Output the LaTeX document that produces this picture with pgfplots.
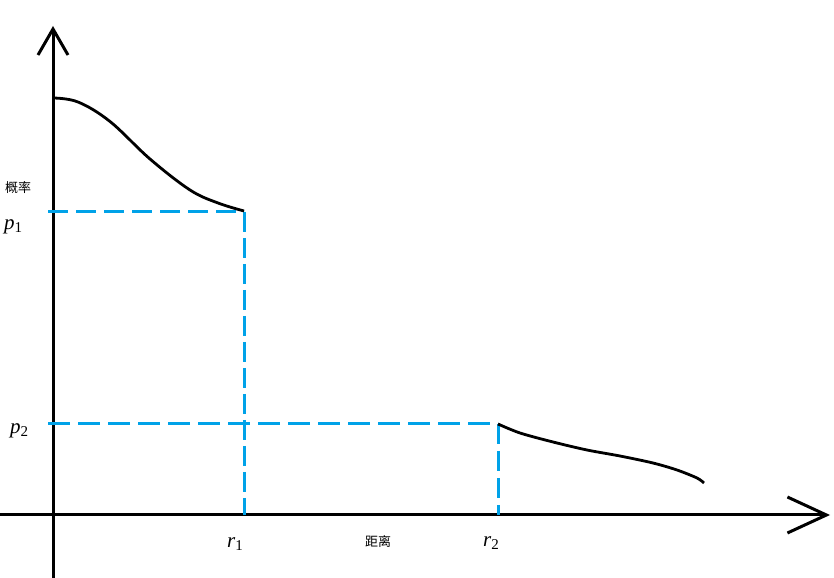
\documentclass[border=0pt]{standalone}
\usepackage{pgfplots}
\pgfplotsset{compat=1.18}
\usetikzlibrary{arrows.meta}
\usepackage{fontspec}
\setmainfont{Liberation Serif}
\newfontfamily\cjk{Noto Sans CJK SC}
\definecolor{paintblue}{RGB}{0,162,232}
\newcommand{\lab}[2]{{\fontsize{21bp}{24bp}\selectfont\itshape #1}\raisebox{-0.55ex}{\fontsize{15bp}{17bp}\selectfont #2}}
\begin{document}
\begin{tikzpicture}
\begin{axis}[
  scale only axis, width=834bp, height=578bp,
  xmin=-53, xmax=781, ymin=-63, ymax=515,
  axis lines=middle,
  xtick=\empty, ytick=\empty,
  x axis line style={line width=3bp, -{Straight Barb[length=39bp,width=36bp,line width=3bp]}, shorten >=4bp},
  y axis line style={line width=3bp, -{Straight Barb[length=26bp,width=30bp,line width=3bp]}, shorten >=26bp},
  clip=false,
]
% dashed guide lines
\addplot[paintblue, line width=3bp, dash pattern=on 20bp off 8bp] coordinates {(-5,303) (191,303)};
\addplot[paintblue, line width=3bp, dash pattern=on 20bp off 6bp] coordinates {(191,303) (191,0)};
\addplot[paintblue, line width=3bp, dash pattern=on 22bp off 8bp] coordinates {(-5,91) (445,91)};
\addplot[paintblue, line width=3bp, dash pattern=on 20bp off 7bp] coordinates {(445,91) (445,0)};
% curves
\addplot[black, line width=2.8bp, smooth, tension=0.6] coordinates {
(0,417) (25,413) (57,393.5) (97,356) (137,325) (165,312) (191,304)};
\addplot[black, line width=2.8bp, smooth] coordinates {
(445,91) (467,82) (500,73) (534,65) (567,59) (600,52) (624,45) (644,37) (651,32)};
% labels
\node at (axis cs:-35,327) {\cjk\fontsize{13bp}{15bp}\selectfont 概率};
\node at (axis cs:-40,288) {\lab{p}{1}};
\node at (axis cs:-34,84) {\lab{p}{2}};
\node at (axis cs:182,-29) {\lab{r}{1}};
\node at (axis cs:325,-27) {\cjk\fontsize{13bp}{15bp}\selectfont 距离};
\node at (axis cs:438,-28) {\lab{r}{2}};
\end{axis}
\pgfresetboundingbox
\useasboundingbox (current axis.south west) rectangle (current axis.north east);
\end{tikzpicture}
\end{document}
